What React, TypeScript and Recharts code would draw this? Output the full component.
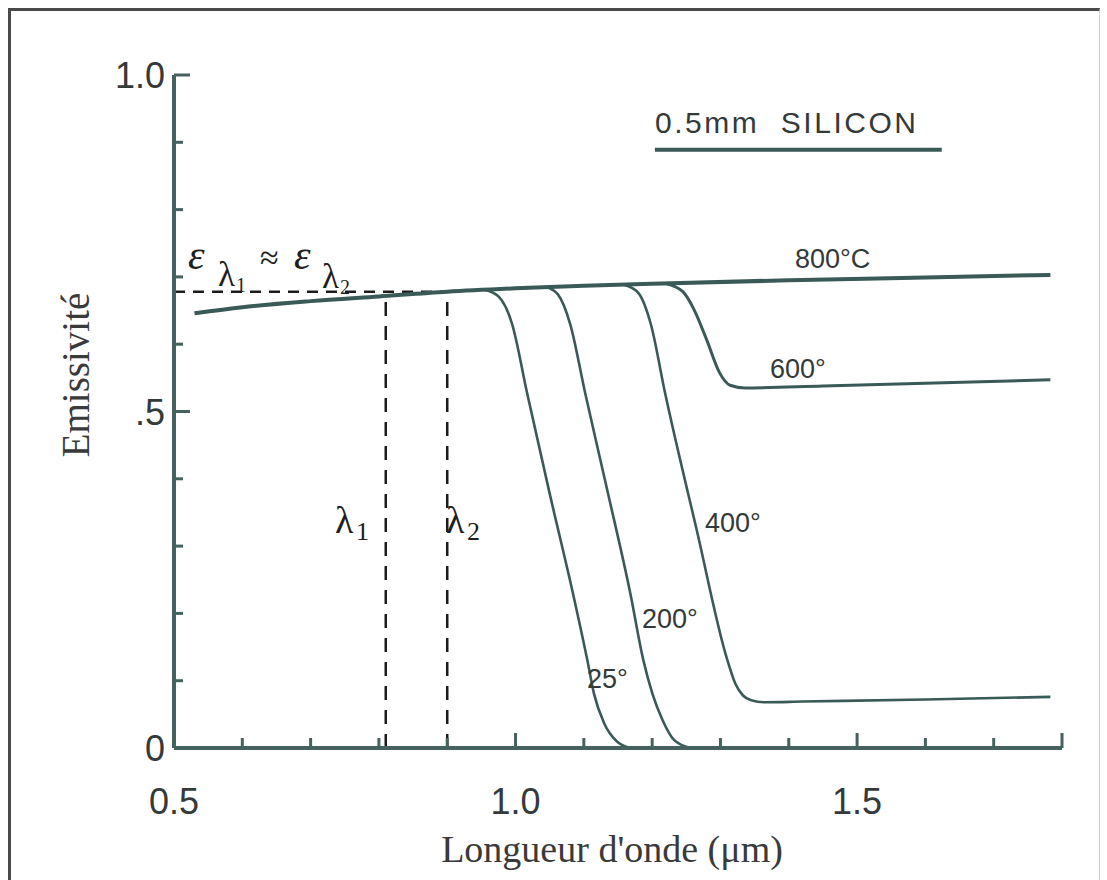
import { LineChart, Line, XAxis, YAxis, ReferenceLine } from "recharts";

// wavelength (µm) / emissivity
const wl800 = [0.53, 0.6, 0.7, 0.8, 0.9, 1.0, 1.1, 1.2, 1.4, 1.6, 1.783];
const em800 = [0.646, 0.655, 0.664, 0.671, 0.678, 0.683, 0.687, 0.690, 0.695, 0.699, 0.703];

const wl600 = [1.22, 1.245, 1.262, 1.28, 1.299, 1.314, 1.336, 1.45, 1.6, 1.783];
const em600 = [0.690, 0.678, 0.650, 0.606, 0.557, 0.539, 0.535, 0.538, 0.542, 0.547];

const wl400 = [1.16, 1.18, 1.198, 1.219, 1.265, 1.31, 1.322, 1.333, 1.345, 1.365, 1.42, 1.6, 1.783];
const em400 = [0.688, 0.676, 0.630, 0.527, 0.325, 0.131, 0.095, 0.078, 0.071, 0.068, 0.069, 0.072, 0.076];

const wl200 = [1.045, 1.062, 1.08, 1.102, 1.135, 1.168, 1.187, 1.2, 1.215, 1.232, 1.256];
const em200 = [0.685, 0.674, 0.630, 0.527, 0.380, 0.230, 0.131, 0.082, 0.042, 0.012, 0];

const wl25 = [0.955, 0.975, 0.995, 1.017, 1.05, 1.084, 1.105, 1.115, 1.13, 1.148, 1.168];
const em25 = [0.681, 0.671, 0.630, 0.527, 0.378, 0.230, 0.131, 0.080, 0.036, 0.010, 0];

const lambda1 = 0.81;
const lambda2 = 0.9;
const epsLevel = 0.678;

const xTicks = [0.5, 0.6, 0.7, 0.8, 0.9, 1.0, 1.1, 1.2, 1.3, 1.4, 1.5, 1.6, 1.7, 1.8];
const xTickLabels = ["0.5", "", "", "", "", "1.0", "", "", "", "", "1.5", "", "", ""];
const yTicks = [0, 0.1, 0.2, 0.3, 0.4, 0.5, 0.6, 0.7, 0.8, 0.9, 1.0];
const yTickLabels = ["0", "", "", "", "", ".5", "", "", "", "", "1.0"];

const toPoints = (xs: number[], ys: number[]) => xs.map((x, i) => ({ x, y: ys[i] }));

const INK = "#3a5a57";
const AXIS = "#45625f";
const TEXT = "#333a39";
const LETTER = "'Liberation Sans', Arial, sans-serif";
const SERIF = "'Liberation Serif', 'Times New Roman', serif";

function XTick(props: any) {
  const { x, y, payload } = props;
  const i = xTicks.indexOf(payload.value);
  const label = xTickLabels[i] || "";
  const long = label !== "" || i === xTicks.length - 1;
  return (
    <g>
      <line x1={x} x2={x} y1={y} y2={y - (long ? 15 : 10)} stroke={AXIS} strokeWidth={3} />
      {label && (
        <text x={x} y={y + 66} textAnchor="middle" fontFamily={LETTER} fontSize={36} fill={TEXT}>
          {label}
        </text>
      )}
    </g>
  );
}

function YTick(props: any) {
  const { x, y, payload } = props;
  const i = yTicks.indexOf(payload.value);
  const label = yTickLabels[i] || "";
  return (
    <g>
      <line x1={x} x2={x + (label ? 16 : 9)} y1={y} y2={y} stroke={AXIS} strokeWidth={3} />
      {label && (
        <text x={x - 9} y={y + 13} textAnchor="end" fontFamily={LETTER} fontSize={36} fill={TEXT}>
          {label}
        </text>
      )}
    </g>
  );
}

const series = [
  { name: "800", pts: toPoints(wl800, em800), w: 4 },
  { name: "600", pts: toPoints(wl600, em600), w: 3 },
  { name: "400", pts: toPoints(wl400, em400), w: 2.6 },
  { name: "200", pts: toPoints(wl200, em200), w: 2.6 },
  { name: "25", pts: toPoints(wl25, em25), w: 2.6 },
];

export default function App() {
  return (
    <div style={{ position: "absolute", left: 0, top: 0, width: 1107, height: 880, background: "#fff" }}>
      <div
        style={{
          position: "absolute",
          left: 8,
          top: 8,
          width: 1092,
          height: 872,
          borderTop: "3px solid #4a4a4a",
          borderLeft: "3px solid #4a4a4a",
          borderRight: "1px solid #d0d0d0",
          boxSizing: "border-box",
        }}
      />
      <LineChart
        width={1107}
        height={880}
        margin={{ top: 75, right: 45, bottom: 72, left: 114 }}
        style={{ position: "absolute", left: 0, top: 0 }}
      >
        <XAxis
          type="number"
          dataKey="x"
          domain={[0.5, 1.8]}
          ticks={xTicks}
          height={60}
          tickLine={false}
          tickSize={0}
          tickMargin={0}
          tick={<XTick />}
          axisLine={{ stroke: AXIS, strokeWidth: 4 }}
          allowDataOverflow
        />
        <YAxis
          type="number"
          dataKey="y"
          domain={[0, 1]}
          ticks={yTicks}
          width={60}
          tickLine={false}
          tickSize={0}
          tickMargin={0}
          tick={<YTick />}
          axisLine={{ stroke: AXIS, strokeWidth: 4 }}
          allowDataOverflow
        />
        <ReferenceLine
          segment={[{ x: 0.5, y: epsLevel }, { x: lambda2, y: epsLevel }]}
          stroke="#1c1c1c"
          strokeWidth={2.5}
          strokeDasharray="11 8"
        />
        <ReferenceLine
          segment={[{ x: lambda1, y: 0 }, { x: lambda1, y: epsLevel }]}
          stroke="#1c1c1c"
          strokeWidth={2.5}
          strokeDasharray="14 10"
        />
        <ReferenceLine
          segment={[{ x: lambda2, y: 0 }, { x: lambda2, y: epsLevel }]}
          stroke="#1c1c1c"
          strokeWidth={2.5}
          strokeDasharray="14 10"
        />
        <ReferenceLine
          segment={[{ x: 1.204, y: 0.889 }, { x: 1.624, y: 0.889 }]}
          stroke={INK}
          strokeWidth={4}
        />
        {series.map((s) => (
          <Line
            key={s.name}
            data={s.pts}
            dataKey="y"
            type="monotone"
            stroke={INK}
            strokeWidth={s.w}
            dot={false}
            activeDot={false}
            isAnimationActive={false}
          />
        ))}
      </LineChart>
      <svg width={1107} height={880} style={{ position: "absolute", left: 0, top: 0, pointerEvents: "none" }}>
        <text x={655} y={133} fontFamily={LETTER} fontSize={30} letterSpacing={2.5} fill={TEXT}>
          0.5mm{"\u00a0\u00a0"}SILICON
        </text>
        <g fontFamily={LETTER} fontSize={27} fill={TEXT}>
          <text x={795} y={268}>800°C</text>
          <text x={770} y={378}>600°</text>
          <text x={705} y={532}>400°</text>
          <text x={642} y={628}>200°</text>
          <text x={587} y={688}>25°</text>
        </g>
        <g fontFamily={SERIF} fill="#1e1e1e">
          <text x={188} y={269} fontSize={42} fontStyle="italic">ε</text>
          <text x={218} y={286} fontSize={35}>λ</text>
          <text x={236} y={292} fontSize={20}>1</text>
          <text x={260} y={269} fontSize={34}>≈</text>
          <text x={294} y={269} fontSize={42} fontStyle="italic">ε</text>
          <text x={322} y={288} fontSize={35}>λ</text>
          <text x={340} y={294} fontSize={20}>2</text>
          <text x={335} y={533} fontSize={38}>λ</text>
          <text x={356} y={540} fontSize={26}>1</text>
          <text x={446} y={533} fontSize={38}>λ</text>
          <text x={467} y={540} fontSize={26}>2</text>
        </g>
        <text
          x={0}
          y={0}
          transform="translate(89 375) rotate(-90)"
          textAnchor="middle"
          fontFamily={SERIF}
          fontSize={39}
          fill="#3a3a3a"
        >
          Emissivité
        </text>
        <text x={612} y={862} textAnchor="middle" fontFamily={SERIF} fontSize={38} fill="#3a3a3a">
          Longueur d'onde (μm)
        </text>
      </svg>
    </div>
  );
}
